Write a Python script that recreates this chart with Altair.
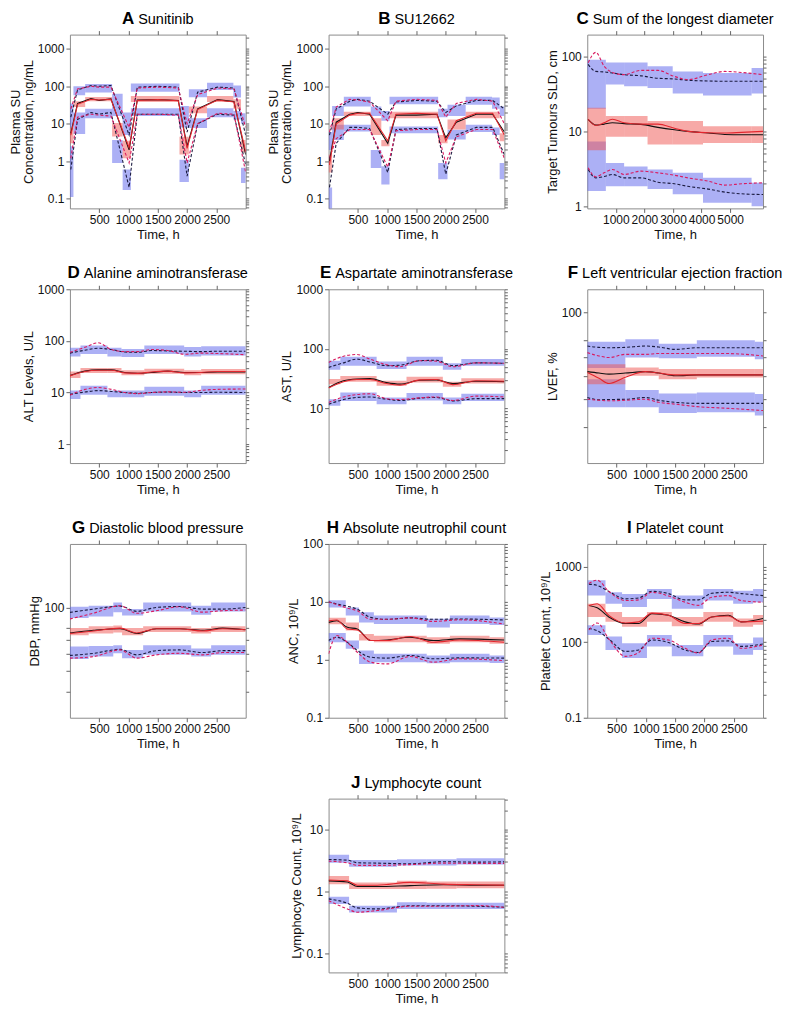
import math
import altair as alt
import pandas as pd

FONT = "Liberation Sans"
W, H = 176, 174

BLUE = "#5f67ec"
RED_FILL = "#ef5350"
BLK_DASH = "#1b1b40"
RED_DASH = "#d81b60"
BLK_SOLID = "#111111"
RED_SOLID = "#e3262e"

X_TICKS = [500, 1000, 1500, 2000, 2500]
X_TICKS_C = [1000, 2000, 3000, 4000, 5000]

# ---------------- A Sunitinib ----------------
A_T = [15, 130, 360, 500, 700, 1010, 1150, 1500, 1850, 2000, 2180, 2520, 2800, 3000]
A_BLK_MED = [5.5, 35, 47, 42, 46, 2.0, 43, 44, 42, 2.5, 25, 44, 39, 1.5]
A_RED_MED = [5, 33, 45, 43, 45, 2.3, 42, 44, 41, 2.2, 24, 43, 38, 1.8]
A_BLK_HI = [15, 80, 105, 100, 105, 5, 95, 100, 95, 6, 70, 95, 90, 5]
A_RED_HI = [25, 85, 100, 95, 95, 8, 90, 95, 90, 10, 60, 90, 85, 8]
A_BLK_LO = [0.6, 13, 20, 18, 20, 0.2, 18, 18, 18, 0.4, 10, 18, 17, 0.8]
A_RED_LO = [1.2, 15, 18, 17, 16, 0.9, 18, 18, 17, 0.9, 10, 19, 18, 0.5]
A_EDGES = [0, 60, 260, 720, 900, 1040, 1870, 2030, 2340, 2790, 2920, 3000]
A_U_LO = [8, 58, 68, 16, 5, 72, 8, 51, 80, 50, 10]
A_U_HI = [35, 100, 115, 63, 20, 118, 30, 83, 125, 105, 19]
A_M_LO = [3, 28, 40, 4.6, 1.2, 38, 1.5, 19, 38, 25, 1.7]
A_M_HI = [8, 40, 52, 10.4, 3.5, 55, 4.5, 29, 55, 45, 3.7]
A_L_LO = [0.11, 5.3, 14, 0.9, 0.17, 16, 0.28, 7.7, 15, 13, 0.26]
A_L_HI = [2.5, 20, 25, 3.7, 0.6, 26, 1.1, 14, 26, 22, 0.67]

# ---------------- B SU12662 ----------------
B_T = [15, 130, 360, 500, 700, 1010, 1150, 1500, 1850, 2000, 2180, 2520, 2800, 3000]
B_BLK_MED = [1.0, 11, 18, 20, 18, 3.0, 17, 17, 18, 4.2, 11, 18, 18, 6]
B_RED_MED = [0.8, 10, 17, 19, 19, 3.5, 18, 19, 18, 3.5, 12, 19, 19, 5]
B_BLK_HI = [5, 25, 40, 45, 40, 18, 38, 42, 40, 20, 30, 42, 42, 25]
B_RED_HI = [6, 28, 45, 43, 38, 12, 40, 45, 42, 15, 35, 45, 40, 10]
B_BLK_LO = [0.2, 3, 8, 8, 7.5, 0.5, 7, 7.5, 7.5, 0.45, 5, 8, 8, 1.5]
B_RED_LO = [1.2, 4, 7, 7, 7, 0.7, 6.5, 7, 7, 0.9, 4.5, 7, 7, 1.2]
B_EDGES = [0, 60, 260, 720, 900, 1040, 1870, 2030, 2340, 2790, 2920, 3000]
B_U_LO = [2, 16, 29, 16, 12, 33, 15, 16, 32, 25, 16]
B_U_HI = [6, 30, 53, 29, 22, 53, 25, 32, 53, 50, 29]
B_M_LO = [0.5, 7, 16, 5, 2.5, 14, 3, 7, 14, 14, 3.4]
B_M_HI = [1.5, 14, 21, 14, 3.7, 21, 5, 13, 21, 21, 5.6]
B_L_LO = [0.05, 3.7, 6.2, 0.66, 0.24, 5.6, 0.33, 3.8, 6, 5, 0.33]
B_L_HI = [0.2, 9.4, 9.4, 2, 0.73, 8.5, 0.9, 6.9, 9.4, 8, 0.9]

# ---------------- C Sum of the longest diameter ----------------
C_T = [30, 300, 590, 880, 1290, 1880, 2470, 3050, 3520, 4230, 4810, 5400, 6150]
C_BLK_MED = [14.4, 12.1, 12.5, 13, 12.7, 12.4, 11.3, 10.5, 10, 9.5, 9.1, 9.0, 9.0]
C_RED_MED = [14.5, 12, 13, 14.5, 13, 12.5, 12.5, 11, 10, 9.6, 9.5, 9.7, 10]
C_BLK_HI = [78, 63, 62, 60, 57, 55, 51, 50, 48, 47, 46.5, 46.5, 46.5]
C_RED_HI = [82, 113, 74, 61, 57, 65, 65, 54, 49, 57, 63, 61, 57]
C_BLK_LO = [3.1, 2.4, 2.5, 2.66, 2.4, 2.4, 2.1, 2.0, 1.85, 1.7, 1.55, 1.47, 1.44]
C_RED_LO = [3.27, 2.48, 2.8, 3.1, 2.66, 2.95, 2.8, 2.6, 2.4, 2.17, 1.92, 2.0, 2.06]
C_EDGES = [0, 650, 1290, 2110, 2990, 4050, 5750, 6150]
C_U_LO = [20, 42, 40, 38, 32, 30, 32]
C_U_HI = [90, 83, 83, 74, 63, 60, 70]
C_M_LO = [5.6, 8.5, 8.5, 6.7, 6.7, 7.0, 7.0]
C_M_HI = [20.6, 16, 16, 13.7, 13.7, 11.7, 11.7]
C_L_LO = [1.6, 1.86, 1.86, 1.7, 1.45, 1.12, 1.0]
C_L_HI = [7.3, 3.8, 3.4, 3.1, 2.8, 2.4, 2.06]

# ---------------- D Alanine aminotransferase ----------------
D_T = [0, 255, 481, 708, 934, 1160, 1387, 1670, 1953, 2236, 2519, 3000]
D_BLK_MED = [21.3, 26, 27.5, 27.5, 24.5, 23.7, 24.5, 26, 24.5, 24.5, 25, 25]
D_RED_MED = [21, 25.5, 27, 27, 24, 23.5, 25, 26, 24, 24.5, 25.5, 25.5]
D_BLK_HI = [58, 66, 72, 68, 61, 60, 65, 64, 63, 62, 63, 63]
D_RED_HI = [60, 75, 92, 68, 62, 62, 68, 65, 55, 58, 57, 54]
D_BLK_LO = [9.2, 10.2, 10.9, 10.5, 10, 9.7, 10, 10.2, 10, 10, 10.1, 10]
D_RED_LO = [8.9, 11.5, 12.5, 11.5, 10, 9.5, 10, 10.3, 10.1, 11, 11.5, 11.7]
D_EDGES = [0, 180, 640, 880, 1270, 1950, 2240, 3000]
D_U_LO = [50, 56, 50, 48.6, 56, 50, 52]
D_U_HI = [73.5, 81, 73.5, 70, 81, 76.5, 78.5]
D_M_LO = [19.2, 24, 24, 21.5, 23, 21.5, 22.5]
D_M_HI = [25.4, 30, 30, 27, 29, 27, 28.5]
D_L_LO = [7.5, 9.1, 8.1, 8.1, 8.7, 8.1, 9.1]
D_L_HI = [10.9, 13.6, 10.9, 10.9, 13, 10.9, 13.6]

# ---------------- E Aspartate aminotransferase ----------------
E_T = [0, 255, 481, 708, 991, 1217, 1557, 1840, 2123, 2519, 3000]
E_BLK_MED = [22.3, 29, 31, 31.5, 27, 25.5, 29.5, 30, 26, 28.5, 28]
E_RED_MED = [22, 28, 30.5, 30.5, 26, 24.5, 30, 30.5, 25, 29, 28.5]
E_BLK_HI = [48.7, 58, 67, 60, 52, 53, 63, 64, 52, 58, 57]
E_RED_HI = [59, 75, 80, 67, 54, 50, 63, 62, 50, 58, 57]
E_BLK_LO = [11.7, 14, 15.2, 15.5, 14.2, 13.5, 14.8, 15.2, 13.3, 14.5, 14.5]
E_RED_LO = [12.5, 15.5, 17, 17.5, 14.5, 14, 15, 15.5, 13.5, 16, 15.5]
E_EDGES = [0, 200, 820, 1330, 1950, 2265, 3000]
E_U_LO = [44.4, 52, 45.6, 52, 44.4, 52]
E_U_HI = [63.2, 73.7, 61.4, 73.7, 56.9, 67.3]
E_M_LO = [25.4, 28, 23.8, 27, 23, 26]
E_M_HI = [30.9, 35, 29, 34, 28, 32]
E_L_LO = [11, 13.3, 11.7, 13.5, 11.7, 13.3]
E_L_HI = [14.2, 18.4, 15.1, 18, 15.1, 17.5]

# ---------------- F Left ventricular ejection fraction ----------------
F_T = [0, 200, 370, 650, 990, 1220, 1500, 1900, 2350, 3000]
F_BLK_MED = [62.2, 61.5, 61, 61.5, 62.2, 61.5, 60.2, 60.6, 60.6, 60.6]
F_RED_MED = [61.8, 59, 56.6, 59.5, 62.2, 61.5, 60.6, 60.6, 60.6, 60.6]
F_BLK_HI = [76.3, 75.5, 75.3, 75.5, 76.3, 75.7, 74.3, 75.3, 75.3, 75.3]
F_RED_HI = [72.4, 70.5, 69.6, 71.4, 71.4, 71.9, 71.9, 71.9, 71.9, 70.5]
F_BLK_LO = [50.6, 49.7, 49.8, 49.9, 50.6, 49.5, 48.7, 48.3, 48.3, 48.3]
F_RED_LO = [49.9, 49.5, 49.3, 49.5, 49.9, 48.7, 48.0, 47.0, 46.5, 45.6]
F_EDGES = [0, 650, 1220, 1870, 2860, 3000]
F_U_LO = [64, 69.6, 69.2, 70, 68.7]
F_U_HI = [79, 80.5, 77.7, 79.9, 79]
F_M_LO = [56.3, 60.2, 58.6, 59.4, 59.4]
F_M_HI = [66, 64.3, 63.5, 63.5, 63.5]
F_L_LO = [46.8, 46.8, 44.7, 45, 43.8]
F_L_HI = [58.6, 53.7, 52.3, 52.7, 52]

# ---------------- G Diastolic blood pressure ----------------
G_T = [0, 406, 857, 1139, 1477, 1872, 2267, 2605, 3000]
G_BLK_MED = [75.7, 77.9, 79.3, 75.2, 79.3, 79.3, 77.9, 79.8, 78.4]
G_RED_MED = [75.2, 77.3, 79.8, 75.7, 79.3, 79.3, 77.3, 79.3, 78.4]
G_BLK_HI = [94.8, 98.2, 101.5, 95.8, 100, 101, 98.2, 98.2, 100]
G_RED_HI = [88.2, 94, 101.8, 93.8, 96.5, 100.7, 95, 96.5, 97.2]
G_BLK_LO = [59.2, 60.6, 63.3, 59.6, 62.4, 62.9, 61.1, 62.4, 62.4]
G_RED_LO = [57.5, 58.5, 62.9, 57.5, 59.6, 60.6, 59.6, 61.1, 61.1]
G_EDGES = [0, 320, 740, 890, 1250, 2070, 2410, 3000]
G_U_LO = [89.2, 90.5, 94.8, 91.5, 95.8, 92.4, 95.8]
G_U_HI = [100.7, 101.8, 105.5, 98.2, 105.5, 101.8, 105.5]
G_M_LO = [73.8, 75.2, 76, 73.8, 76.5, 75.2, 76.5]
G_M_HI = [80, 81.5, 82, 80, 81.5, 80, 81.5]
G_L_LO = [56.9, 58.5, 60.6, 57.5, 59.6, 58.5, 59.6]
G_L_HI = [65.2, 65.6, 66.2, 62.9, 66.2, 63.8, 66.2]

# ---------------- H Absolute neutrophil count ----------------
H_T = [0, 140, 320, 490, 716, 998, 1393, 1788, 2239, 3000]
H_BLK_MED = [4.43, 4.73, 3.64, 3.41, 2.15, 2.2, 2.45, 2.15, 2.3, 2.2]
H_RED_MED = [4.73, 4.87, 3.41, 3.27, 2.15, 2.15, 2.52, 2.01, 2.2, 2.01]
H_BLK_HI = [10, 9.2, 8.4, 7.5, 5.4, 5.0, 5.3, 5.0, 5.06, 4.87]
H_RED_HI = [10, 9.0, 7.8, 7.0, 5.0, 5.0, 5.3, 4.6, 4.9, 4.15]
H_BLK_LO = [2.15, 2.45, 2.0, 1.45, 1.11, 1.07, 1.19, 1.04, 1.08, 1.07]
H_RED_LO = [1.27, 2.62, 2.0, 1.35, 0.91, 0.85, 1.14, 0.91, 1.04, 0.97]
H_EDGES = [0, 293, 519, 773, 1675, 2070, 2747, 3000]
H_U_LO = [8.0, 5.8, 4.4, 4.15, 3.6, 4.15, 4.0]
H_U_HI = [10.7, 8.0, 6.6, 5.8, 5.1, 5.8, 5.4]
H_M_LO = [4.1, 3.2, 2.15, 2.0, 1.9, 2.0, 1.9]
H_M_HI = [5.3, 4.4, 2.8, 2.6, 2.45, 2.6, 2.45]
H_L_LO = [2.0, 1.55, 0.85, 0.91, 0.87, 0.91, 0.88]
H_L_HI = [2.9, 2.15, 1.45, 1.27, 1.19, 1.27, 1.19]

# ---------------- I Platelet count ----------------
I_T = [28, 170, 368, 651, 877, 1104, 1387, 1670, 1896, 2123, 2406, 2632, 3000]
I_BLK_MED = [307, 285, 216, 177, 177, 239, 227, 186, 174, 216, 227, 186, 206]
I_RED_MED = [307, 323, 227, 180, 186, 243, 227, 177, 177, 216, 222, 186, 190]
I_BLK_HI = [588, 565, 470, 375, 386, 472, 440, 364, 364, 444, 458, 440, 414]
I_RED_HI = [600, 662, 470, 356, 364, 458, 410, 339, 307, 394, 414, 356, 339]
I_BLK_LO = [152, 142, 110, 75.5, 79, 107, 99, 79, 73, 102, 104, 88, 95]
I_RED_LO = [145, 180, 110, 65, 73, 113, 107, 83, 72, 107, 113, 83, 92]
I_EDGES = [0, 311, 594, 1019, 1443, 1981, 2490, 2830, 3000]
I_U_LO = [414, 323, 292, 374, 278, 356, 323, 339]
I_U_HI = [661, 458, 435, 506, 414, 506, 481, 506]
I_M_LO = [216, 186, 160, 186, 163, 186, 160, 170]
I_M_HI = [323, 251, 216, 251, 216, 251, 206, 230]
I_L_LO = [125, 79, 62, 88, 65, 88, 68, 79]
I_L_HI = [168, 119, 97, 125, 92, 125, 97, 115]

# ---------------- J Lymphocyte count ----------------
J_T = [0, 321, 491, 829, 1393, 1957, 2521, 3000]
J_BLK_MED = [1.48, 1.42, 1.2, 1.2, 1.24, 1.28, 1.26, 1.26]
J_RED_MED = [1.53, 1.48, 1.26, 1.26, 1.40, 1.31, 1.28, 1.26]
J_BLK_HI = [3.26, 3.18, 2.89, 2.85, 2.78, 3.0, 2.96, 2.99]
J_RED_HI = [3.07, 2.89, 2.62, 2.62, 2.7, 2.85, 2.82, 2.82]
J_BLK_LO = [0.76, 0.645, 0.544, 0.524, 0.59, 0.59, 0.578, 0.557]
J_RED_LO = [0.711, 0.524, 0.464, 0.493, 0.578, 0.578, 0.592, 0.557]
J_EDGES = [0, 350, 1167, 1675, 2183, 3000]
J_U_LO = [2.9, 2.5, 2.6, 2.6, 2.7]
J_U_HI = [3.9, 3.2, 3.3, 3.3, 3.4]
J_M_LO = [1.31, 1.09, 1.09, 1.1, 1.12]
J_M_HI = [1.77, 1.39, 1.48, 1.45, 1.45]
J_L_LO = [0.63, 0.46, 0.52, 0.52, 0.52]
J_L_HI = [0.82, 0.59, 0.67, 0.66, 0.66]

# Arial / Liberation Sans advance widths (per 1000 em) for title centring
ARIAL = {" ": 278, "a": 556, "b": 556, "c": 500, "d": 556, "e": 556, "f": 278, "g": 556,
         "h": 556, "i": 222, "j": 222, "k": 500, "l": 222, "m": 833, "n": 556, "o": 556,
         "p": 556, "q": 556, "r": 333, "s": 500, "t": 278, "u": 556, "v": 500, "w": 722,
         "x": 500, "y": 500, "z": 500, "A": 667, "D": 722, "L": 556, "P": 667, "S": 667,
         "U": 722}
ARIAL_BOLD = {"A": 722, "B": 722, "C": 722, "D": 722, "E": 667, "F": 611, "G": 778,
              "H": 722, "I": 278, "J": 556}

TITLE_NAME_SIZE = 14.5
TITLE_LETTER_SIZE = 17
TITLE_Y = -11


def text_width(s, size, table):
    return sum(table.get(ch, 556) for ch in s) * size / 1000.0


def log_ticks(lo, hi):
    out = []
    e = math.floor(math.log10(lo))
    while 10 ** e <= hi:
        for m in range(1, 10):
            v = round(m * 10 ** e, 6)
            if lo <= v <= hi:
                out.append(v)
        e += 1
    return out


def panel(letter, name, ytitle, T, bmed, rmed, bhi, rhi, blo, rlo,
          edges, u_lo, u_hi, m_lo, m_hi, l_lo, l_hi,
          ydom, left_vals, xdom, xticks, interp,
          label_expr=None, right_vals=None):
    xs = alt.Scale(domain=xdom, nice=False, zero=False)
    ys = alt.Scale(type="log", domain=ydom, nice=False)
    blue_df = pd.DataFrame({"t0": edges[:-1] * 2, "t1": edges[1:] * 2,
                            "lo": u_lo + l_lo, "hi": u_hi + l_hi})
    red_df = pd.DataFrame({"t0": edges[:-1], "t1": edges[1:], "lo": m_lo, "hi": m_hi})
    rows = []
    for key, vals in [("bhi", bhi), ("blo", blo), ("rhi", rhi), ("rlo", rlo),
                      ("bmed", bmed), ("rmed", rmed)]:
        for t, v in zip(T, vals):
            rows.append({"t": t, "v": v, "s": key})
    line_df = pd.DataFrame(rows)

    if label_expr:
        ax_left = alt.Axis(orient="left", values=left_vals, labelExpr=label_expr,
                           title=ytitle, titleLineHeight=13)
    else:
        ax_left = alt.Axis(orient="left", values=left_vals, format="~g",
                           title=ytitle, titleLineHeight=13)
    ax_bottom = alt.Axis(orient="bottom", values=xticks, format="d", title="Time, h",
                         titlePadding=3)
    ax_top = alt.Axis(orient="top", values=xticks, labels=False, title=None, tickSize=4)
    rv = right_vals if right_vals is not None else log_ticks(ydom[0], ydom[1])
    ax_right = alt.Axis(orient="right", values=rv, labels=False, title=None, tickSize=3)

    blue = alt.Chart(blue_df).mark_rect(color=BLUE, opacity=0.52, clip=True).encode(
        x=alt.X("t0:Q", scale=xs, axis=ax_bottom), x2="t1:Q",
        y=alt.Y("lo:Q", scale=ys, axis=ax_left), y2="hi:Q")
    red = alt.Chart(red_df).mark_rect(color=RED_FILL, opacity=0.5, clip=True).encode(
        x=alt.X("t0:Q", scale=xs, axis=None), x2="t1:Q",
        y=alt.Y("lo:Q", scale=ys, axis=None), y2="hi:Q")

    def lines(keys, color, dash):
        kw = dict(color=color, strokeWidth=1.1, interpolate=interp, clip=True)
        if dash:
            kw["strokeDash"] = [3, 2]
        return alt.Chart(line_df).transform_filter(
            alt.FieldOneOfPredicate(field="s", oneOf=keys)
        ).mark_line(**kw).encode(
            x=alt.X("t:Q", scale=xs, axis=None),
            y=alt.Y("v:Q", scale=ys, axis=None),
            detail="s:N")

    mirror = alt.Chart(line_df).mark_point(opacity=0, size=1, clip=True).encode(
        x=alt.X("t:Q", scale=xs, axis=ax_top),
        y=alt.Y("v:Q", scale=ys, axis=ax_right))

    lw = text_width(letter, TITLE_LETTER_SIZE, ARIAL_BOLD)
    nw = text_width(name, TITLE_NAME_SIZE, ARIAL)
    gap = 4
    start = W / 2 - (lw + gap + nw) / 2
    one = pd.DataFrame({"a": [0]})
    t_letter = alt.Chart(one).mark_text(
        text=letter, font=FONT, fontSize=TITLE_LETTER_SIZE, fontWeight="bold", align="left",
        baseline="alphabetic", color="#000").encode(x=alt.value(start), y=alt.value(TITLE_Y))
    t_name = alt.Chart(one).mark_text(
        text=name, font=FONT, fontSize=TITLE_NAME_SIZE, align="left",
        baseline="alphabetic", color="#000").encode(x=alt.value(start + lw + gap),
                                                    y=alt.value(TITLE_Y))

    return alt.layer(
        blue, red,
        lines(["bhi", "blo"], BLK_DASH, True),
        lines(["rhi", "rlo"], RED_DASH, True),
        lines(["bmed"], BLK_SOLID, False),
        lines(["rmed"], RED_SOLID, False),
        mirror, t_letter, t_name
    ).properties(width=W, height=H)


XD = [0, 3000]
pA = panel("A", "Sunitinib", ["Plasma SU", "Concentration, ng/mL"], A_T,
           A_BLK_MED, A_RED_MED, A_BLK_HI, A_RED_HI, A_BLK_LO, A_RED_LO,
           A_EDGES, A_U_LO, A_U_HI, A_M_LO, A_M_HI, A_L_LO, A_L_HI,
           [0.055, 2400], [0.1, 1, 10, 100, 1000], XD, X_TICKS, "linear")
pB = panel("B", "SU12662", ["Plasma SU", "Concentration, ng/mL"], B_T,
           B_BLK_MED, B_RED_MED, B_BLK_HI, B_RED_HI, B_BLK_LO, B_RED_LO,
           B_EDGES, B_U_LO, B_U_HI, B_M_LO, B_M_HI, B_L_LO, B_L_HI,
           [0.055, 2400], [0.1, 1, 10, 100, 1000], XD, X_TICKS, "linear")
pC = panel("C", "Sum of the longest diameter", "Target Tumours SLD, cm", C_T,
           C_BLK_MED, C_RED_MED, C_BLK_HI, C_RED_HI, C_BLK_LO, C_RED_LO,
           C_EDGES, C_U_LO, C_U_HI, C_M_LO, C_M_HI, C_L_LO, C_L_HI,
           [0.94, 195], [1, 10, 100], [0, 6150], X_TICKS_C, "monotone")
pD = panel("D", "Alanine aminotransferase", "ALT Levels, U/L", D_T,
           D_BLK_MED, D_RED_MED, D_BLK_HI, D_RED_HI, D_BLK_LO, D_RED_LO,
           D_EDGES, D_U_LO, D_U_HI, D_M_LO, D_M_HI, D_L_LO, D_L_HI,
           [0.43, 1000], [1, 10, 100, 1000], XD, X_TICKS, "monotone")
pE = panel("E", "Aspartate aminotransferase", "AST, U/L", E_T,
           E_BLK_MED, E_RED_MED, E_BLK_HI, E_RED_HI, E_BLK_LO, E_RED_LO,
           E_EDGES, E_U_LO, E_U_HI, E_M_LO, E_M_HI, E_L_LO, E_L_HI,
           [1.2, 1000], [10, 100, 1000], XD, X_TICKS, "monotone")
pF = panel("F", "Left ventricular ejection fraction", "LVEF, %", F_T,
           F_BLK_MED, F_RED_MED, F_BLK_HI, F_RED_HI, F_BLK_LO, F_RED_LO,
           F_EDGES, F_U_LO, F_U_HI, F_M_LO, F_M_HI, F_L_LO, F_L_HI,
           [30, 120], [40, 50, 60, 70, 80, 100], XD, X_TICKS, "monotone",
           label_expr="datum.value == 100 ? '100' : ''",
           right_vals=[40, 50, 60, 70, 80, 100])
pG = panel("G", "Diastolic blood pressure", "DBP, mmHg", G_T,
           G_BLK_MED, G_RED_MED, G_BLK_HI, G_RED_HI, G_BLK_LO, G_RED_LO,
           G_EDGES, G_U_LO, G_U_HI, G_M_LO, G_M_HI, G_L_LO, G_L_HI,
           [30, 200], [40, 50, 60, 70, 80, 100], XD, X_TICKS, "monotone",
           label_expr="datum.value == 100 ? '100' : ''",
           right_vals=[40, 50, 60, 70, 80, 100])
pH = panel("H", "Absolute neutrophil count", "ANC, 10⁹/L", H_T,
           H_BLK_MED, H_RED_MED, H_BLK_HI, H_RED_HI, H_BLK_LO, H_RED_LO,
           H_EDGES, H_U_LO, H_U_HI, H_M_LO, H_M_HI, H_L_LO, H_L_HI,
           [0.1, 100], [0.1, 1, 10, 100], XD, X_TICKS, "monotone")
pI = panel("I", "Platelet count", "Platelet Count, 10⁹/L", I_T,
           I_BLK_MED, I_RED_MED, I_BLK_HI, I_RED_HI, I_BLK_LO, I_RED_LO,
           I_EDGES, I_U_LO, I_U_HI, I_M_LO, I_M_HI, I_L_LO, I_L_HI,
           [10, 2000], [10, 100, 1000], XD, X_TICKS, "monotone",
           label_expr="datum.value == 10 ? '0.1' : format(datum.value, '~g')")
pJ = panel("J", "Lymphocyte count", "Lymphocyte Count, 10⁹/L", J_T,
           J_BLK_MED, J_RED_MED, J_BLK_HI, J_RED_HI, J_BLK_LO, J_RED_LO,
           J_EDGES, J_U_LO, J_U_HI, J_M_LO, J_M_HI, J_L_LO, J_L_HI,
           [0.05, 31], [0.1, 1, 10], XD, X_TICKS, "monotone")

blank = alt.Chart(pd.DataFrame({"a": [1]})).mark_point(opacity=0).encode(
    x=alt.X("a:Q", axis=None), y=alt.Y("a:Q", axis=None)
).properties(width=W, height=H, view=alt.ViewBackground(stroke="transparent"))

chart = alt.concat(pA, pB, pC, pD, pE, pF, pG, pH, pI, blank, pJ,
                   columns=3, spacing={"row": 81, "column": 83}, bounds="flush",
                   padding=0)

chart = chart.configure(font=FONT).configure_view(
    stroke="#8c8c8c", strokeWidth=1
).configure_axis(
    labelFont=FONT, titleFont=FONT, labelFontSize=12, titleFontSize=13,
    titleFontWeight="normal", labelColor="#111", titleColor="#111",
    tickColor="#666", domain=False, grid=False, tickSize=4,
    labelPadding=2, titlePadding=2
)

chart.save("out.html", embed_options={"renderer": "svg", "actions": False})
